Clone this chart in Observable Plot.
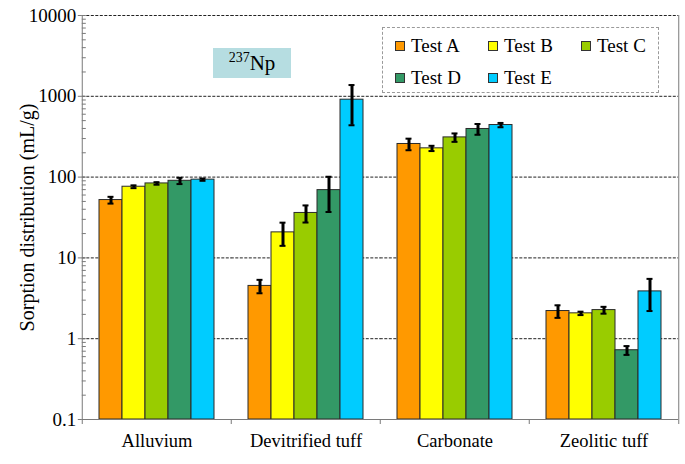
<!DOCTYPE html>
<html><head><meta charset="utf-8">
<script src="https://cdn.jsdelivr.net/npm/d3@7"></script>
<script src="https://cdn.jsdelivr.net/npm/@observablehq/plot@0.6"></script>
<style>
body{margin:0;background:#fff;}
#wrap{position:relative;width:685px;height:464px;font-family:"Liberation Serif","Times New Roman",Times,Tinos,"DejaVu Serif",serif;color:#000;}
#wrap svg{display:block;}
#wrap svg text{font-family:"Liberation Serif","Times New Roman",Times,Tinos,"DejaVu Serif",serif;}
.legend{position:absolute;left:382px;top:27px;width:277px;height:66px;border:1px dashed #9a9a9a;box-sizing:border-box;background:#fff;}
.item{position:absolute;font-size:19px;line-height:20px;height:20px;display:flex;align-items:center;white-space:nowrap;}
.sw{width:8px;height:8px;border:1px solid #333;margin-right:6px;}
.tag{position:absolute;left:213px;top:48px;width:78px;height:30px;background:#b6dde1;font-size:21px;text-align:center;line-height:31px;}
.tag sup{font-size:14px;vertical-align:0;position:relative;top:-8px;}
</style></head>
<body>
<div id="wrap"></div>
<script>
const groups = ["Alluvium", "Devitrified tuff", "Carbonate", "Zeolitic tuff"];
const tests = ["Test A", "Test B", "Test C", "Test D", "Test E"];
const colors = ["#ff9900", "#ffff00", "#99cc00", "#339966", "#00ccff"];
// Kd values (mL/g) per test, in group order
const testA = [52, 4.5, 257, 2.2];
const testB = [76, 20.7, 227, 2.06];
const testC = [83.5, 36, 310, 2.26];
const testD = [90, 69, 394, 0.72];
const testE = [93, 908, 441, 3.85];
// error half-widths
const errA = [5, 0.85, 42, 0.39];
const errB = [3, 6.6, 17, 0.1];
const errC = [3, 8.6, 37, 0.22];
const errD = [8, 32, 60, 0.09];
const errE = [3, 470, 27, 1.65];
const yTicks = [0.1, 1, 10, 100, 1000, 10000];
const gridVals = [1, 10, 100, 1000, 10000];
const yLabel = "Sorption distribution (mL/g)";
const tagText = ["237", "Np"];

const seriesVals = [testA, testB, testC, testD, testE];
const seriesErr = [errA, errB, errC, errD, errE];
const rows = [];
tests.forEach((t, i) => groups.forEach((g, j) => rows.push({group: g, test: t, value: seriesVals[i][j], err: seriesErr[i][j]})));

const W = 685, H = 464, mL = 81, mR = 6, mT = 15, mB = 45;
const padIn = 0.23;
const step = (W - mL - mR) / groups.length;
const halfGap = step * padIn / 2;
const axisColor = "#7a7a7a";
const serif = "Liberation Serif, Times New Roman, Times, Tinos, DejaVu Serif, serif";

const chart = Plot.plot({
  width: W, height: H,
  marginLeft: mL, marginRight: mR, marginTop: mT, marginBottom: mB,
  style: {fontFamily: serif, background: "#fff", color: "#000"},
  fx: {domain: groups, paddingInner: padIn, paddingOuter: padIn / 2},
  x: {domain: tests, padding: 0, axis: null},
  y: {type: "log", domain: [0.1, 10000]},
  color: {domain: tests, range: colors},
  marks: [
    Plot.ruleY(gridVals, {stroke: "#222", strokeWidth: 1, strokeDasharray: "3,1.5", insetLeft: -halfGap, insetRight: -halfGap}),
    Plot.barY(rows, {fx: "group", x: "test", y1: 0.1, y2: "value", fill: "test", stroke: "#2a2a2a", strokeWidth: 1}),
    Plot.ruleX(rows, {fx: "group", x: "test", y1: d => d.value - d.err, y2: d => d.value + d.err, stroke: "#000", strokeWidth: 3}),
    Plot.tickY(rows, {fx: "group", x: "test", y: d => d.value + d.err, stroke: "#000", strokeWidth: 2, insetLeft: 8.5, insetRight: 8.5}),
    Plot.tickY(rows, {fx: "group", x: "test", y: d => d.value - d.err, stroke: "#000", strokeWidth: 2, insetLeft: 8.5, insetRight: 8.5}),
    Plot.ruleY([0.1], {stroke: axisColor, strokeWidth: 1, insetLeft: -halfGap, insetRight: -halfGap}),
    Plot.ruleX([groups[0]], {fx: d => d, x: () => "Test C", dx: -step / 2, stroke: axisColor, insetBottom: -5}),
    Plot.ruleX([groups[groups.length - 1]], {fx: d => d, x: () => "Test C", dx: step / 2, stroke: axisColor, insetBottom: -5}),
    Plot.ruleX(groups.slice(1), {fx: d => d, x: () => "Test C", y1: 0.1, y2: 0.1, dx: -step / 2, stroke: axisColor, insetBottom: -5}),
    Plot.axisY({ticks: yTicks, tickFormat: d => String(d), tickSize: 4, tickPadding: 2, dx: -halfGap, fontSize: 19, stroke: axisColor, label: null}),
    Plot.axisY({ticks: 40, tickSize: 4, dx: 4 - halfGap, tickFormat: () => "", stroke: axisColor, label: null}),
    Plot.axisY({ticks: [], label: yLabel, labelAnchor: "center", labelArrow: "none", labelOffset: 80, fontSize: 20}),
    Plot.axisFx({anchor: "bottom", tickSize: 0, tickPadding: 14, fontSize: 18.5, label: null})
  ]
});

const wrap = document.getElementById("wrap");
wrap.appendChild(chart);

const legend = document.createElement("div");
legend.className = "legend";
tests.forEach((t, i) => {
  const it = document.createElement("div");
  it.className = "item";
  it.style.left = (12 + (i % 3) * 93) + "px";
  it.style.top = (8 + Math.floor(i / 3) * 32) + "px";
  const sw = document.createElement("span");
  sw.className = "sw";
  sw.style.background = colors[i];
  it.appendChild(sw);
  it.appendChild(document.createTextNode(t));
  legend.appendChild(it);
});
wrap.appendChild(legend);

const tag = document.createElement("div");
tag.className = "tag";
const sup = document.createElement("sup");
sup.textContent = tagText[0];
tag.appendChild(sup);
tag.appendChild(document.createTextNode(tagText[1]));
wrap.appendChild(tag);
</script>
</body></html>
